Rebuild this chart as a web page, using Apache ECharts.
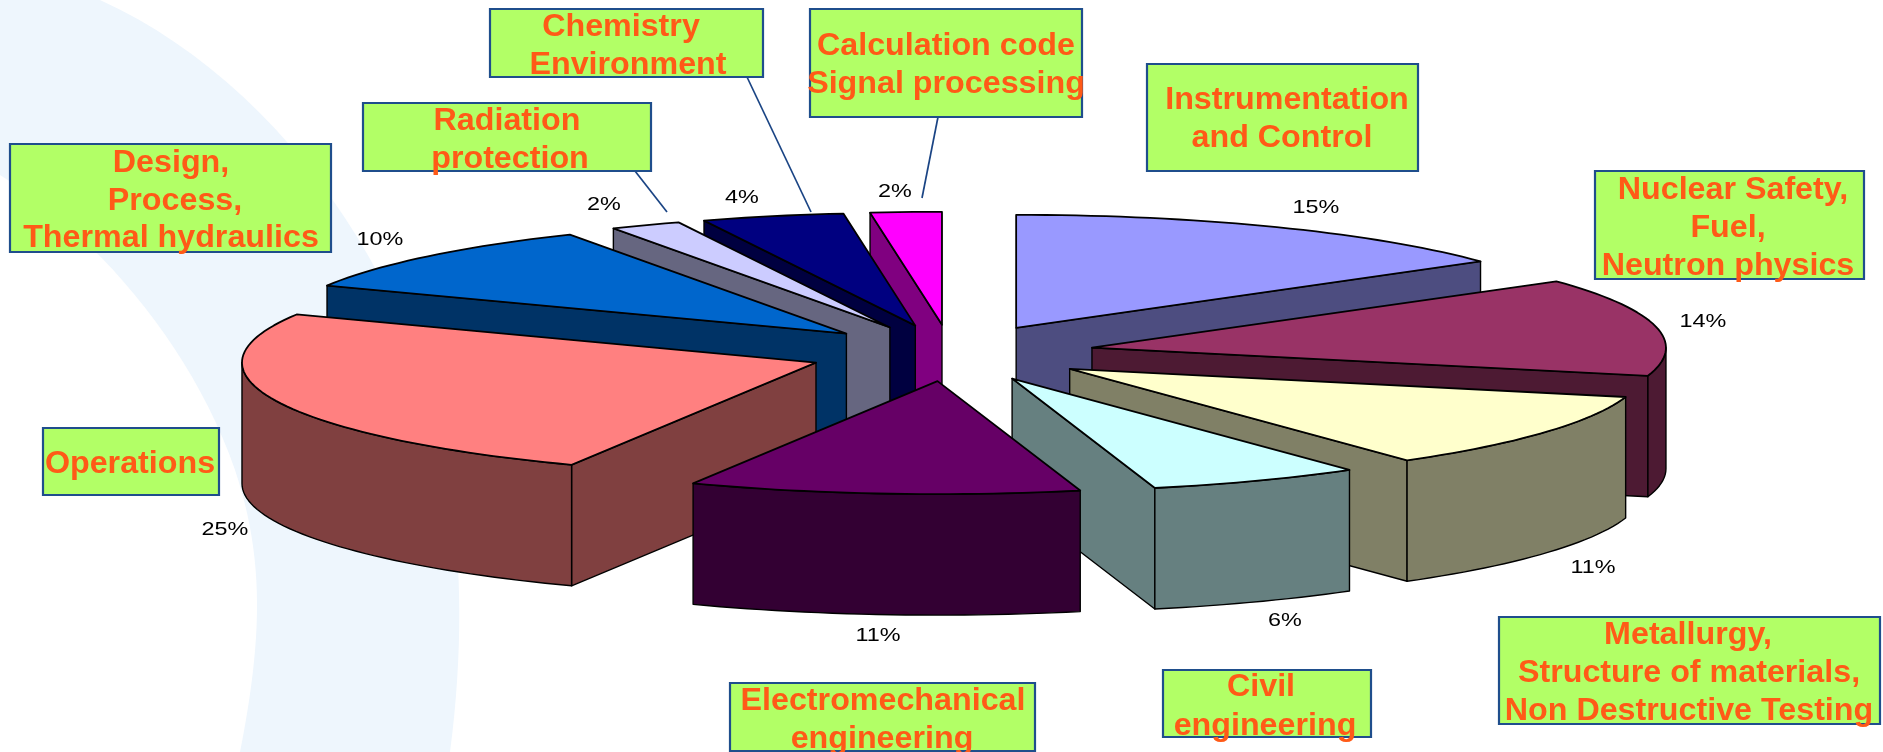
<!DOCTYPE html>
<html>
<head>
<meta charset="utf-8">
<title>Engineering fields</title>
<style>html,body{margin:0;padding:0;background:#fff}#chart{width:1883px;height:752px}</style>
<script src="https://cdn.jsdelivr.net/npm/echarts@6/dist/echarts.min.js"></script>
</head>
<body>
<div id="chart"></div>
<script>
// Share of each discipline, clockwise from twelve o'clock
const categories = ['Instrumentation and Control', 'Nuclear Safety, Fuel, Neutron physics',
  'Metallurgy, Structure of materials, Non Destructive Testing', 'Civil engineering',
  'Electromechanical engineering', 'Operations', 'Design, Process, Thermal hydraulics',
  'Radiation protection', 'Chemistry Environment', 'Calculation code Signal processing'];
const shares = [15, 14, 11, 6, 11, 25, 10, 2, 4, 2];
const topColors = ['#9999FF', '#993366', '#FFFFCC', '#CCFFFF', '#660066',
  '#FF8080', '#0066CC', '#CCCCFF', '#000080', '#FF00FF'];
const wallColors = ['#4D4D80', '#4D1A33', '#808066', '#668080', '#330033',
  '#804040', '#003366', '#666680', '#000040', '#800080'];

// Back-to-front painting rank of each slice
const paintRank = [5, 6, 7, 8, 9, 4, 3, 2, 1, 0];

// Tilted pie geometry
const pie = { cx: 951, cy: 353, rx: 574, ry: 113, depth: 121, explode: 0.25 };

// Percentage label centres, by slice
const percentAt = [[1316, 207], [1703, 321], [1593, 567], [1285, 620], [878, 635],
  [225, 529], [380, 239], [604, 204], [742, 197], [895, 191]];

// Callout boxes: [left, top, right, bottom], then one [text, centre x, centre y] per line
const callouts = [
  { box: [1147, 64, 1418, 171], lines: [['Instrumentation', 1287, 100], ['and Control', 1282, 138]] },
  { box: [1595, 171, 1864, 279], lines: [['Nuclear Safety,', 1733, 190], ['Fuel,', 1728, 228], ['Neutron physics', 1728, 266]] },
  { box: [1499, 617, 1880, 724], lines: [['Metallurgy,', 1688, 635], ['Structure of materials,', 1689, 673], ['Non Destructive Testing', 1689, 711]] },
  { box: [1163, 670, 1371, 737], lines: [['Civil', 1261, 687], ['engineering', 1265, 726]] },
  { box: [730, 683, 1035, 751], lines: [['Electromechanical', 883, 701], ['engineering', 882, 739]] },
  { box: [43, 428, 219, 495], lines: [['Operations', 130, 464]] },
  { box: [10, 144, 331, 252], lines: [['Design,', 171, 163], ['Process,', 175, 201], ['Thermal hydraulics', 171, 238]] },
  { box: [363, 103, 651, 171], lines: [['Radiation', 507, 121], ['protection', 510, 159]] },
  { box: [490, 9, 763, 77], lines: [['Chemistry', 621, 27], ['Environment', 628, 65]] },
  { box: [810, 9, 1082, 117], lines: [['Calculation code', 946, 46], ['Signal processing', 946, 84]] }
];

// Leader lines from callouts toward their slices
const leaders = [[635, 171, 667, 212], [747, 77, 811, 212], [938, 117, 922, 198]];

// Pale swoosh outline: cubic segments as [c1x, c1y, c2x, c2y, x, y] from the previous point
const swooshStart = [100, 0];
const swooshCurves = [
  [255, 70, 380, 230, 430, 400],
  [455, 480, 470, 600, 450, 752],
  [383, 752, 307, 752, 240, 752],
  [262, 640, 265, 560, 235, 470],
  [190, 340, 90, 230, 0, 175]
];

const rad = d => d * Math.PI / 180;
const sum = shares.reduce((a, b) => a + b, 0);

// Start and end bearing of each slice, in degrees clockwise from the top
const spans = [];
shares.reduce((acc, v) => { spans.push([acc / sum * 360, (acc + v) / sum * 360]); return acc + v; }, 0);

function onEllipse(o, deg, drop) {
  return [o[0] + pie.rx * Math.sin(rad(deg)), o[1] - pie.ry * Math.cos(rad(deg)) + (drop || 0)];
}
function arc(o, from, to, drop) {
  const pts = [];
  const n = Math.max(2, Math.ceil(Math.abs(to - from) / 1.5));
  for (let i = 0; i <= n; i++) pts.push(onEllipse(o, from + (to - from) * i / n, drop));
  return pts;
}

function renderSlice(params, api) {
  const i = params.dataIndex;
  const value = api.value(0);
  const start = spans[i][0];
  const end = start + value / sum * 360;
  const mid = (start + end) / 2;
  const apex = onEllipse([pie.cx, pie.cy], mid).map((c, k) =>
    k === 0 ? pie.cx + (c - pie.cx) * pie.explode : pie.cy + (c - pie.cy) * pie.explode);
  const rank = paintRank[i] * 10;
  const base = [apex[0], apex[1] + pie.depth];
  const wall = () => ({ fill: wallColors[i], stroke: '#000', lineWidth: 1.4, lineJoin: 'round' });
  const children = [];

  const radialWall = (deg, k) => {
    const a = onEllipse(apex, deg), b = onEllipse(apex, deg, pie.depth);
    children.push({ type: 'polygon', z2: rank + k, shape: { points: [apex, a, b, base] }, style: wall() });
  };
  if (Math.sin(rad(start)) < -1e-6) radialWall(start, 1);
  if (Math.sin(rad(end)) > 1e-6) radialWall(end, 2);

  const rimFrom = Math.max(start, 90), rimTo = Math.min(end, 270);
  if (rimTo > rimFrom) {
    const pts = arc(apex, rimFrom, rimTo, 0).concat(arc(apex, rimTo, rimFrom, pie.depth));
    children.push({ type: 'polygon', z2: rank + 3, shape: { points: pts }, style: wall() });
  }

  children.push({
    type: 'polygon', z2: rank + 4,
    shape: { points: [apex].concat(arc(apex, start, end, 0)) },
    style: { fill: topColors[i], stroke: '#000', lineWidth: 1.8, lineJoin: 'round' }
  });

  children.push({
    type: 'text', z2: 200, x: percentAt[i][0], y: percentAt[i][1] + 1, scaleX: 1.3,
    style: {
      text: value + '%', x: 0, y: 0, align: 'center', verticalAlign: 'middle',
      font: '18px "Liberation Sans", Arial, sans-serif', fill: '#000'
    }
  });
  return { type: 'group', children };
}

function swooshPoints() {
  const pts = [[0, 0], swooshStart];
  let p = swooshStart;
  swooshCurves.forEach(c => {
    for (let k = 1; k <= 24; k++) {
      const t = k / 24, u = 1 - t;
      pts.push([
        u * u * u * p[0] + 3 * u * u * t * c[0] + 3 * u * t * t * c[2] + t * t * t * c[4],
        u * u * u * p[1] + 3 * u * u * t * c[1] + 3 * u * t * t * c[3] + t * t * t * c[5]
      ]);
    }
    p = [c[4], c[5]];
  });
  return pts;
}

// Pale swoosh behind the chart, then the callouts
const graphicElements = [{
  type: 'polygon', z: -1, silent: true,
  shape: { points: swooshPoints() },
  style: { fill: '#EEF6FD' }
}];
leaders.forEach(l => graphicElements.push({
  type: 'line', z: 5, shape: { x1: l[0], y1: l[1], x2: l[2], y2: l[3] },
  style: { stroke: '#1A4484', lineWidth: 1.7 }
}));
callouts.forEach(c => {
  graphicElements.push({
    type: 'rect', z: 6,
    shape: { x: c.box[0], y: c.box[1], width: c.box[2] - c.box[0], height: c.box[3] - c.box[1] },
    style: { fill: '#B2FF66', stroke: '#1F4E8C', lineWidth: 2.2 }
  });
  c.lines.forEach(l => graphicElements.push({
    type: 'text', z: 7, x: l[1], y: l[2], scaleX: 1.04,
    style: {
      text: l[0], x: 0, y: 0, align: 'center', verticalAlign: 'middle',
      font: 'bold 31px "Liberation Sans", Arial, sans-serif', fill: '#FF5A17'
    }
  }));
});

const chart = echarts.init(document.getElementById('chart'), null, { renderer: 'canvas' });
chart.setOption({
  animation: false,
  backgroundColor: '#fff',
  graphic: { elements: graphicElements },
  series: [{
    type: 'custom',
    coordinateSystem: 'none',
    z: 2,
    renderItem: renderSlice,
    data: shares.map((v, i) => ({ name: categories[i], value: [v] }))
  }]
});
</script>
</body>
</html>
